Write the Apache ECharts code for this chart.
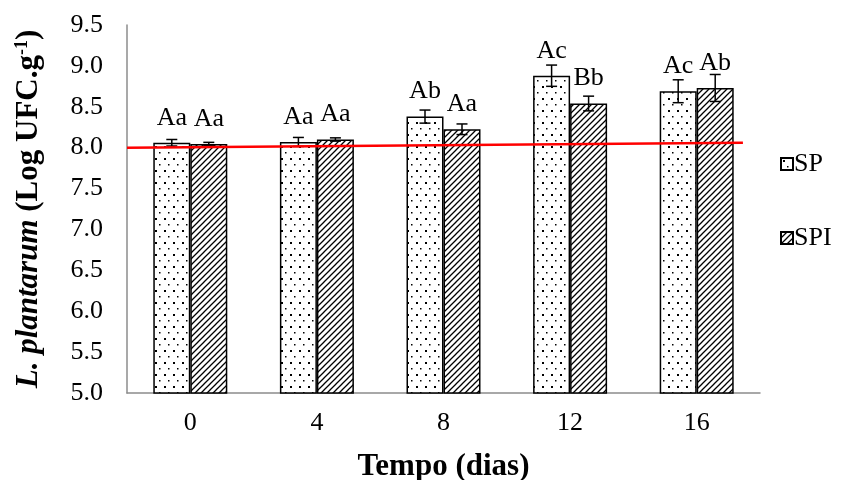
<!DOCTYPE html>
<html lang="pt">
<head>
    <meta charset="utf-8">
    <title>L. plantarum</title>
    <script src="https://cdn.jsdelivr.net/npm/echarts@6/dist/echarts.min.js"></script>
    <style>
        html, body { margin: 0; padding: 0; background: #fff; }
        #main { width: 841px; height: 480px; }
    </style>
</head>
<body>
<div id="main"></div>
<script type="text/javascript">
    // dados
    var dias = ['0', '4', '8', '12', '16'];
    var sp = [8.06, 8.07, 8.38, 8.88, 8.69];
    var spErr = [0.04, 0.055, 0.08, 0.13, 0.14];
    var spi = [8.045, 8.10, 8.225, 8.54, 8.73];
    var spiErr = [0.02, 0.02, 0.065, 0.09, 0.165];
    var spLabels = ['Aa', 'Aa', 'Ab', 'Ac', 'Ac'];
    var spiLabels = ['Aa', 'Aa', 'Aa', 'Bb', 'Ab'];
    var refLine = [[0, 8.0], [0.973, 8.06]];

    var FONT = '"Liberation Serif", "DejaVu Serif", serif';
    var BAR_W = 37;

    // padroes de preenchimento
    function dotPattern() {
        var c = document.createElement('canvas');
        c.width = 9; c.height = 12;
        var ctx = c.getContext('2d');
        ctx.fillStyle = '#fff';
        ctx.fillRect(0, 0, 9, 12);
        ctx.fillStyle = '#000';
        ctx.fillRect(2, 2, 2, 2);
        ctx.fillRect(6, 8, 1.5, 1.5);
        return c;
    }
    function hatchPattern() {
        var c = document.createElement('canvas');
        c.width = 6; c.height = 6;
        var ctx = c.getContext('2d');
        ctx.fillStyle = '#fff';
        ctx.fillRect(0, 0, 6, 6);
        ctx.strokeStyle = '#000';
        ctx.lineWidth = 1.3;
        ctx.beginPath();
        ctx.moveTo(-1, 7); ctx.lineTo(7, -1);
        ctx.moveTo(-1, 1); ctx.lineTo(1, -1);
        ctx.moveTo(5, 7); ctx.lineTo(7, 5);
        ctx.stroke();
        return c;
    }

    function errorSeries(vals, errs, offset) {
        return {
            type: 'custom',
            xAxisIndex: 0,
            z: 5,
            silent: true,
            data: vals.map(function (v, i) { return [i, v - errs[i], v + errs[i]]; }),
            renderItem: function (params, api) {
                var lo = api.coord([api.value(0), api.value(1)]);
                var hi = api.coord([api.value(0), api.value(2)]);
                var x = lo[0] + offset;
                var hw = 5.5;
                var st = { stroke: '#000', lineWidth: 1.5 };
                return {
                    type: 'group',
                    children: [
                        { type: 'line', shape: { x1: x, y1: lo[1], x2: x, y2: hi[1] }, style: st },
                        { type: 'line', shape: { x1: x - hw, y1: hi[1], x2: x + hw, y2: hi[1] }, style: st },
                        { type: 'line', shape: { x1: x - hw, y1: lo[1], x2: x + hw, y2: lo[1] }, style: st }
                    ]
                };
            }
        };
    }

    var myChart = echarts.init(document.getElementById('main'));

    myChart.setOption({
        animation: false,
        textStyle: { fontFamily: FONT, color: '#000' },
        grid: { left: 127, right: 81, top: 25, bottom: 87, outerBoundsMode: 'none', containLabel: false },
        legend: {
            orient: 'vertical',
            left: 775,
            top: 146,
            itemGap: 48,
            itemWidth: 12,
            itemHeight: 12,
            icon: 'rect',
            data: ['SP', 'SPI'],
            textStyle: { fontFamily: FONT, fontSize: 26, color: '#000', padding: [0, 0, 0, -4] }
        },
        xAxis: [{
            type: 'category',
            data: dias,
            axisLine: { lineStyle: { color: '#8c8c8c', width: 1.5 } },
            axisTick: { show: false },
            axisLabel: { fontFamily: FONT, fontSize: 26, color: '#000', margin: 17 },
            name: 'Tempo (dias)',
            nameLocation: 'middle',
            nameGap: 58,
            nameTextStyle: { fontFamily: FONT, fontSize: 31, fontWeight: 'bold', color: '#000' }
        }, {
            type: 'value',
            min: 0,
            max: 1,
            show: false
        }],
        yAxis: {
            type: 'value',
            min: 5,
            max: 9.5,
            interval: 0.5,
            splitLine: { show: false },
            axisLine: { show: true, lineStyle: { color: '#8c8c8c', width: 1.5 } },
            axisTick: { show: false },
            axisLabel: {
                fontFamily: FONT, fontSize: 26, color: '#000', margin: 24,
                formatter: function (v) { return v.toFixed(1); }
            },
            name: '{i|L. plantarum}{b| (Log UFC.g}{s|-1}{b|)}',
            nameLocation: 'middle',
            nameGap: 82,
            nameTextStyle: {
                rich: {
                    i: { fontFamily: FONT, fontSize: 31, fontWeight: 'bold', fontStyle: 'italic', color: '#000' },
                    b: { fontFamily: FONT, fontSize: 31, fontWeight: 'bold', color: '#000' },
                    s: { fontFamily: FONT, fontSize: 18, fontWeight: 'bold', color: '#000', verticalAlign: 'top', padding: [0, 0, 14, 0] }
                }
            }
        },
        series: [{
            name: 'SP',
            type: 'bar',
            data: sp,
            barWidth: BAR_W,
            barGap: '0%',
            itemStyle: { color: { image: dotPattern(), repeat: 'repeat' }, borderColor: '#000', borderWidth: 1.5 },
            label: {
                show: true, position: 'top', distance: 12,
                fontFamily: FONT, fontSize: 26, color: '#000',
                formatter: function (p) { return spLabels[p.dataIndex]; }
            }
        }, {
            name: 'SPI',
            type: 'bar',
            data: spi,
            barWidth: BAR_W,
            barGap: '0%',
            itemStyle: { color: { image: hatchPattern(), repeat: 'repeat' }, borderColor: '#000', borderWidth: 1.5 },
            label: {
                show: true, position: 'top', distance: 12,
                fontFamily: FONT, fontSize: 26, color: '#000',
                formatter: function (p) { return spiLabels[p.dataIndex]; }
            }
        },
        errorSeries(sp, spErr, -BAR_W / 2),
        errorSeries(spi, spiErr, BAR_W / 2),
        {
            name: 'ref',
            type: 'line',
            xAxisIndex: 1,
            data: refLine,
            symbol: 'none',
            silent: true,
            z: 10,
            lineStyle: { color: '#ff0000', width: 2.5 }
        }]
    });
</script>
</body>
</html>
